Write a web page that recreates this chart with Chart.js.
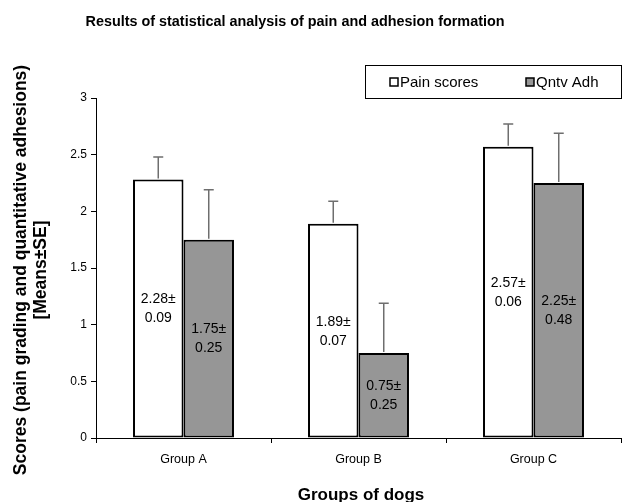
<!DOCTYPE html>
<html>
<head>
<meta charset="utf-8">
<script src="https://cdn.jsdelivr.net/npm/chart.js@4/dist/chart.umd.min.js"></script>
<style>
html,body{margin:0;padding:0;background:#fff;}
canvas{display:block;}
</style>
</head>
<body>
<canvas id="c" width="622" height="502"></canvas>
<script>
const categories = ["Group A", "Group B", "Group C"];
const seriesNames = ["Pain scores", "Qntv Adh"];
const painMeans = [2.28, 1.89, 2.57];
const painSE = ["0.09", "0.07", "0.06"];
const adhMeans = [1.75, 0.75, 2.25];
const adhSE = ["0.25", "0.25", "0.48"];
const painErrBar = [0.2, 0.2, 0.2];
const adhErrBar = [0.44, 0.44, 0.44];
const yTicks = [0, 0.5, 1, 1.5, 2, 2.5, 3];
const titleText = "Results of statistical analysis of pain and adhesion formation";
const xTitle = "Groups of dogs";
const yTitle1 = "Scores (pain grading and quantitative adhesions)";
const yTitle2 = "[Means±SE]";

const FONT = "'Liberation Sans', Arial, sans-serif";
const GRAY = "#969696";

const decor = {
  id: "decor",
  afterDatasetsDraw(chart) {
    const ctx = chart.ctx;
    const ys = chart.scales.y;
    const errs = [painErrBar, adhErrBar];
    const means = [painMeans, adhMeans];
    const ses = [painSE, adhSE];
    ctx.save();
    chart.data.datasets.forEach((ds, di) => {
      const meta = chart.getDatasetMeta(di);
      meta.data.forEach((bar, i) => {
        const yTop = ys.getPixelForValue(means[di][i] + errs[di][i]);
        const yBase = bar.y;
        ctx.strokeStyle = "#6e6e6e";
        ctx.lineWidth = 1.5;
        ctx.beginPath();
        ctx.moveTo(bar.x, yBase - 1);
        ctx.lineTo(bar.x, yTop);
        ctx.moveTo(bar.x - 5, yTop);
        ctx.lineTo(bar.x + 5, yTop);
        ctx.stroke();
        const mid = (bar.y + bar.base) / 2;
        ctx.fillStyle = "#000";
        ctx.font = "14px " + FONT;
        ctx.textAlign = "center";
        ctx.textBaseline = "middle";
        ctx.fillText(means[di][i].toFixed(2) + "±", bar.x, mid - 9);
        ctx.fillText(ses[di][i], bar.x, mid + 10);
      });
    });
    ctx.restore();
  },
  afterDraw(chart) {
    const ctx = chart.ctx;
    ctx.save();
    ctx.fillStyle = "#000";
    ctx.font = "bold 14.4px " + FONT;
    ctx.textAlign = "center";
    ctx.textBaseline = "middle";
    ctx.fillText(titleText, 295, 22);
    ctx.font = "bold 17px " + FONT;
    ctx.textBaseline = "alphabetic";
    ctx.fillText(xTitle, 361, 500);
    ctx.font = "bold 17.5px " + FONT;
    ctx.textBaseline = "middle";
    ctx.save();
    ctx.translate(21, 270);
    ctx.rotate(-Math.PI / 2);
    ctx.fillText(yTitle1, 0, 0);
    ctx.restore();
    ctx.save();
    ctx.translate(41, 270);
    ctx.rotate(-Math.PI / 2);
    ctx.fillText(yTitle2, 0, 0);
    ctx.restore();
    // legend
    ctx.strokeStyle = "#000";
    ctx.lineWidth = 1;
    ctx.strokeRect(365.5, 65.5, 256, 33);
    const items = [{x: 390, fill: "#fff", label: seriesNames[0]}, {x: 526, fill: GRAY, label: seriesNames[1]}];
    ctx.font = "15px " + FONT;
    ctx.textAlign = "left";
    ctx.textBaseline = "middle";
    items.forEach(it => {
      ctx.fillStyle = it.fill;
      ctx.fillRect(it.x, 78, 8, 8);
      ctx.lineWidth = 1.5;
      ctx.strokeRect(it.x, 78, 8, 8);
      ctx.fillStyle = "#000";
      ctx.fillText(it.label, it.x + 10, 82.5);
    });
    ctx.restore();
  }
};

new Chart(document.getElementById("c"), {
  type: "bar",
  data: {
    labels: categories,
    datasets: [
      {label: seriesNames[0], data: painMeans, backgroundColor: "#fff", borderColor: "#000", borderWidth: 2, borderSkipped: false},
      {label: seriesNames[1], data: adhMeans, backgroundColor: GRAY, borderColor: "#000", borderWidth: 2, borderSkipped: false}
    ]
  },
  options: {
    responsive: false,
    animation: false,
    devicePixelRatio: 1,
    layout: {padding: {left: 0, right: 1, top: 98, bottom: 0}},
    datasets: {bar: {categoryPercentage: 0.577, barPercentage: 1}},
    plugins: {legend: {display: false}, title: {display: false}, tooltip: {enabled: false}},
    scales: {
      x: {
        offset: true,
        grid: {display: true, offset: true, drawOnChartArea: false, drawTicks: true, tickLength: 5, color: "#000"},
        border: {display: true, color: "#000", width: 1},
        ticks: {color: "#000", font: {family: FONT, size: 12.5}, padding: 9, maxRotation: 0},
        afterFit(s) { s.height = 64; }
      },
      y: {
        min: 0, max: 3,
        afterBuildTicks(s) { s.ticks = yTicks.map(v => ({value: v})); },
        grid: {display: true, drawOnChartArea: false, drawTicks: true, tickLength: 5, color: "#000"},
        border: {display: true, color: "#000", width: 1},
        ticks: {color: "#000", font: {family: FONT, size: 12}, padding: 4, callback: v => String(v)},
        afterFit(s) { s.width = 96; }
      }
    }
  },
  plugins: [decor]
});
</script>
</body>
</html>
